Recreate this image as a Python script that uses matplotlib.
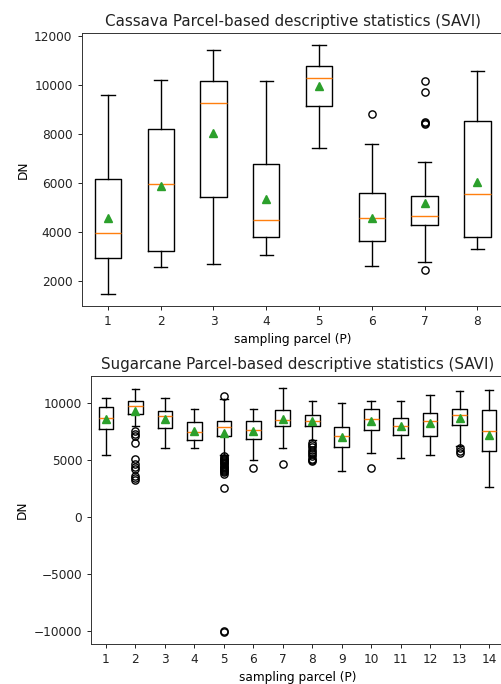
import matplotlib
matplotlib.use("Agg")
import matplotlib.pyplot as plt

# ---------------- data ----------------
cassava_labels = ["1", "2", "3", "4", "5", "6", "7", "8"]
cassava_whislo = [1500, 2570, 2720, 3070, 7420, 2620, 2770, 3300]
cassava_q1 = [2940, 3230, 5430, 3800, 9150, 3650, 4300, 3800]
cassava_med = [3950, 5950, 9260, 4500, 10280, 4560, 4650, 5550]
cassava_q3 = [6150, 8190, 10140, 6770, 10780, 5590, 5480, 8540]
cassava_whishi = [9580, 10180, 11400, 10140, 11600, 7570, 6850, 10550]
cassava_mean = [4590, 5870, 8030, 5360, 9960, 4590, 5170, 6050]
cassava_fliers = [[], [], [], [], [], [8820],
                  [10140, 9720, 8490, 8450, 8420, 2460], []]

sugar_labels = [str(i) for i in range(1, 15)]
sugar_whislo = [5400, 7960, 6010, 6010, 5400, 4960, 6010, 6700, 4030, 5630, 5170, 5400, 6200, 2600]
sugar_q1 = [7730, 9010, 7820, 6740, 7090, 6860, 7960, 7960, 6130, 7610, 7210, 7090, 8050, 5750]
sugar_med = [8690, 9710, 8840, 7440, 7850, 7640, 8520, 8370, 7090, 8600, 7990, 8400, 8950, 7530]
sugar_q3 = [9590, 10120, 9270, 8310, 8400, 8400, 9360, 8950, 7870, 9480, 8660, 9070, 9480, 9330]
sugar_whishi = [10440, 11170, 10440, 9480, 10290, 9480, 11280, 10120, 10000, 10120, 10120, 10700, 10990, 11080]
sugar_mean = [8600, 9270, 8600, 7530, 7380, 7530, 8600, 8400, 7000, 8400, 7930, 8200, 8690, 7150]
sugar_fliers = [
    [],
    [7500, 7300, 7100, 6500, 5100, 4600, 4400, 4200, 3600, 3400, 3200],
    [],
    [],
    [10620, 5300, 5200, 5100, 5000, 4900, 4800, 4700, 4600, 4500, 4400,
     4300, 4200, 4100, 4000, 3900, 3800, 2580, -10000, -10050],
    [4330],
    [4670],
    [6500, 6300, 6100, 5900, 5700, 5500, 5300, 5100, 5000, 4900],
    [],
    [4330],
    [],
    [],
    [6000, 5800, 5600],
    [],
]

# ---------------- style ----------------
S = 0.87
plt.rcParams.update({
    "font.family": ["DejaVu Sans"],
    "font.size": 10 * S,
    "axes.titlesize": 12 * 0.905,
    "axes.labelsize": 10 * S,
    "xtick.labelsize": 10 * S,
    "ytick.labelsize": 10 * S,
    "axes.linewidth": 0.8 * S,
    "axes.edgecolor": "#333333",
    "xtick.major.width": 0.8 * S,
    "ytick.major.width": 0.8 * S,
    "xtick.major.size": 3.5 * S,
    "ytick.major.size": 3.5 * S,
    "axes.titlepad": 6 * S,
    "axes.labelpad": 4 * S,
    "text.color": "#222222",
    "xtick.color": "#222222",
    "ytick.color": "#222222",
})


def make_stats(labels, whislo, q1, med, q3, whishi, mean, fliers):
    out = []
    for i in range(len(labels)):
        out.append(dict(label=labels[i], whislo=whislo[i], q1=q1[i], med=med[i],
                        q3=q3[i], whishi=whishi[i], mean=mean[i], fliers=fliers[i]))
    return out


fig = plt.figure(figsize=(5.02, 6.84), dpi=100)

LW = 1.0
box_kw = dict(showmeans=True,
              boxprops=dict(linewidth=LW),
              whiskerprops=dict(linewidth=LW),
              capprops=dict(linewidth=LW),
              medianprops=dict(linewidth=LW, color="C1"),
              meanprops=dict(marker="^", markerfacecolor="C2", markeredgecolor="C2",
                             markersize=6.3),
              flierprops=dict(marker="o", markerfacecolor="none", markeredgecolor="black",
                              markersize=6 * S, markeredgewidth=LW))

ax1 = fig.add_axes([0.1625, 0.5526, 0.8409, 0.3992])
ax1.bxp(make_stats(cassava_labels, cassava_whislo, cassava_q1, cassava_med, cassava_q3,
                   cassava_whishi, cassava_mean, cassava_fliers), **box_kw)
ax1.set_title("Cassava Parcel-based descriptive statistics (SAVI)")
ax1.set_xlabel("sampling parcel (P)")
ax1.set_ylabel("DN")

ax2 = fig.add_axes([0.1819, 0.0585, 0.8215, 0.3918])
ax2.bxp(make_stats(sugar_labels, sugar_whislo, sugar_q1, sugar_med, sugar_q3,
                   sugar_whishi, sugar_mean, sugar_fliers), **box_kw)
ax2.set_title("Sugarcane Parcel-based descriptive statistics (SAVI)")
ax2.set_xlabel("sampling parcel (P)")
ax2.set_ylabel("DN")

fig.savefig("out.png", dpi=100)
